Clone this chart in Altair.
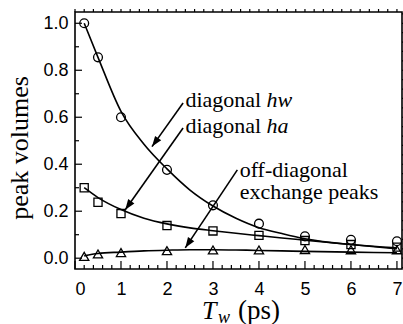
import altair as alt
import pandas as pd

# ---------------- data ----------------
Tw = [0.2, 0.5, 1, 2, 3, 4, 5, 6, 7]
hw_vals = [1.00, 0.855, 0.600, 0.376, 0.225, 0.147, 0.093, 0.078, 0.072]
ha_vals = [0.300, 0.238, 0.190, 0.139, 0.116, 0.097, 0.075, 0.058, 0.047]
off_vals = [0.008, 0.018, 0.024, 0.032, 0.035, 0.035, 0.037, 0.036, 0.036]

fit_x = [0.2, 0.5, 1, 1.5, 2, 2.5, 3, 3.5, 4, 4.5, 5, 6, 7]
hw_fit = [1.0, 0.855, 0.625, 0.485, 0.38, 0.29, 0.222, 0.17, 0.13, 0.105, 0.083, 0.058, 0.044]
ha_fit = [0.300, 0.258, 0.207, 0.170, 0.146, 0.129, 0.117, 0.106, 0.096, 0.086, 0.077, 0.058, 0.040]
off_fit = [0.010, 0.020, 0.026, 0.031, 0.034, 0.036, 0.036, 0.035, 0.033, 0.031, 0.029, 0.026, 0.023]

y_major = [0.0, 0.2, 0.4, 0.6, 0.8, 1.0]
y_minor = [0.1, 0.3, 0.5, 0.7, 0.9]
x_major = [0, 1, 2, 3, 4, 5, 6, 7]
x_all = [round(i * 0.2, 1) for i in range(36)]
x_minor = [v for v in x_all if abs(v - round(v)) > 1e-6]
y_right = [round(-0.04 + i * 0.04, 2) for i in range(28)]

# annotation texts (data coordinates of text anchors)
lab_text = ["diagonal", "diagonal", "off-diagonal", "exchange peaks"]
lab_ital = ["hw", "ha", "", ""]
lab_x = [2.40, 2.40, 3.58, 3.58]
lab_y = [0.642, 0.534, 0.345, 0.251]

# arrows: start -> tip
arr_x = [2.35, 2.35, 3.53]
arr_y = [0.661, 0.554, 0.376]
arr_x2 = [1.674, 1.093, 2.398]
arr_y2 = [0.475, 0.206, 0.044]
arr_angle = [216, 215, 214]

# ---------------- tables ----------------
pts = pd.DataFrame({"Tw": Tw, "hw": hw_vals, "ha": ha_vals, "off": off_vals})
fits = pd.DataFrame({"Tw": fit_x, "hw": hw_fit, "ha": ha_fit, "off": off_fit})
labels = pd.DataFrame({"t": lab_text, "it": lab_ital, "x": lab_x, "y": lab_y})
arrows = pd.DataFrame({"x": arr_x, "y": arr_y, "x2": arr_x2, "y2": arr_y2, "a": arr_angle})

W, H = 327, 257
xs = alt.Scale(domain=[0, 7.11], nice=False, zero=False)
ys = alt.Scale(domain=[-0.046, 1.048], nice=False, zero=False)
SERIF = "Liberation Serif, Times New Roman, serif"
SANS = "Liberation Sans, Arial, sans-serif"

xaxis = alt.Axis(values=x_major, format="d", ticks=False, domain=False, grid=False,
                 labelFont=SANS, labelFontSize=18, labelColor="black", labelPadding=11, title=None)
yaxis = alt.Axis(values=y_major, format=".1f", ticks=False, domain=False, grid=False,
                 labelFont=SANS, labelFontSize=18, labelColor="black", labelPadding=7, title=None)


def X(f):
    return alt.X(f, scale=xs, axis=xaxis)


def Y(f):
    return alt.Y(f, scale=ys, axis=yaxis)


layers = []
# fitted curves
for s in ["hw", "ha", "off"]:
    layers.append(
        alt.Chart(fits).mark_line(color="black", strokeWidth=1.6, interpolate="monotone").encode(
            x=X("Tw:Q"), y=Y(f"{s}:Q")
        )
    )
# markers
for s, shp, sz in [("hw", "circle", 78), ("ha", "square", 66), ("off", "triangle-up", 85)]:
    layers.append(
        alt.Chart(pts).mark_point(shape=shp, size=sz, filled=False, color="black",
                                  strokeWidth=1.3, opacity=1).encode(
            x=X("Tw:Q"), y=Y(f"{s}:Q")
        )
    )
# arrows
layers.append(
    alt.Chart(arrows).mark_rule(color="black", strokeWidth=1.6).encode(
        x=X("x:Q"), y=Y("y:Q"), x2="x2:Q", y2="y2:Q"
    )
)
layers.append(
    alt.Chart(arrows).mark_point(shape="M0,0 L-0.36,1 L0.36,1 Z", size=440, filled=True,
                                 color="black", opacity=1).encode(
        x=X("x2:Q"), y=Y("y2:Q"), angle=alt.Angle("a:Q", scale=None)
    )
)
# annotation texts
layers.append(
    alt.Chart(labels).mark_text(font=SERIF, fontSize=22, align="left", baseline="alphabetic",
                                color="black").encode(
        x=X("x:Q"), y=Y("y:Q"), text="t:N"
    )
)
layers.append(
    alt.Chart(labels).mark_text(font=SERIF, fontSize=22, fontStyle="italic", align="left",
                                baseline="alphabetic", color="black", dx=81).encode(
        x=X("x:Q"), y=Y("y:Q"), text="it:N"
    )
)


# inward / outward ticks
def ticks_y(vals, x0, x1):
    return alt.Chart(pd.DataFrame({"v": vals})).mark_rule(color="black", strokeWidth=1.2).encode(
        y=Y("v:Q"), x=alt.value(x0), x2=alt.value(x1))


def ticks_x(vals, y0, y1):
    return alt.Chart(pd.DataFrame({"v": vals})).mark_rule(color="black", strokeWidth=1.2).encode(
        x=X("v:Q"), y=alt.value(y0), y2=alt.value(y1))


layers += [
    ticks_y(y_major, 0, 7),
    ticks_y(y_minor, 0, 4),
    ticks_x(x_major, H, H - 8),
    ticks_x(x_minor, H, H - 4),
    ticks_x(x_all, 0, -3),
    ticks_y(y_right, W, W + 3),
]

# axis titles as text
layers.append(
    alt.Chart(pd.DataFrame({"a": ["peak volumes"]})).mark_text(
        font=SERIF, fontSize=26, angle=270, align="center", baseline="alphabetic",
        color="black").encode(text="a:N", x=alt.value(-47), y=alt.value(136))
)
layers.append(
    alt.Chart(pd.DataFrame({"a": ["T"]})).mark_text(
        font=SERIF, fontSize=26, fontStyle="italic", align="left", baseline="alphabetic",
        color="black").encode(text="a:N", x=alt.value(127), y=alt.value(307))
)
layers.append(
    alt.Chart(pd.DataFrame({"a": ["w"]})).mark_text(
        font=SERIF, fontSize=18, fontStyle="italic", align="left", baseline="alphabetic",
        color="black").encode(text="a:N", x=alt.value(143), y=alt.value(311))
)
layers.append(
    alt.Chart(pd.DataFrame({"a": ["(ps)"]})).mark_text(
        font=SERIF, fontSize=27, align="left", baseline="alphabetic",
        color="black").encode(text="a:N", x=alt.value(163), y=alt.value(307))
)

chart = alt.layer(*layers).properties(
    width=W, height=H,
    autosize=alt.AutoSizeParams(type="none"),
    padding={"left": 75, "top": 12, "right": 1, "bottom": 55},
    background="white",
).configure_view(stroke="black", strokeWidth=1.6)

chart.save("out.html", embed_options={"renderer": "svg", "actions": False})
